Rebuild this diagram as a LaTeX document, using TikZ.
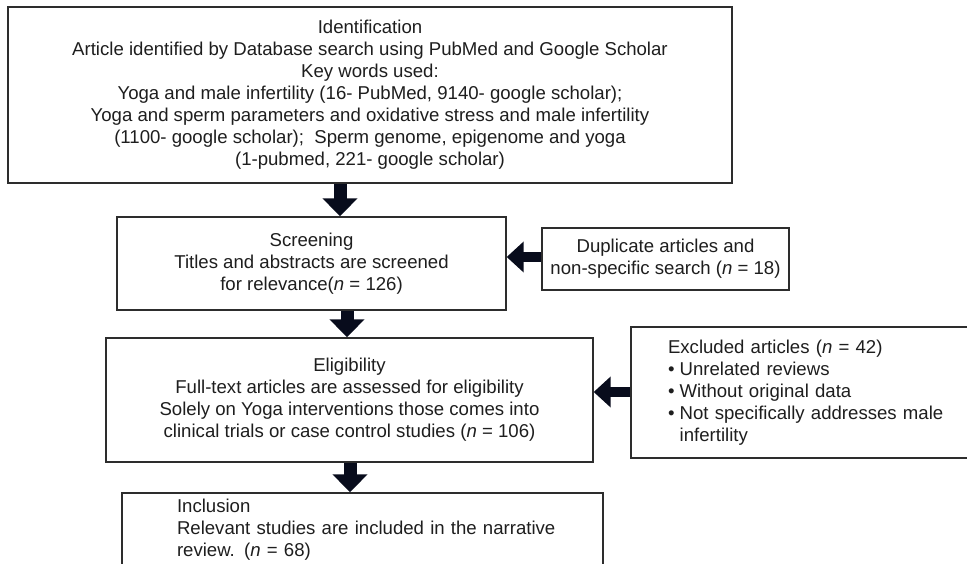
\documentclass[tikz,border=0pt]{standalone}
\usepackage{fontspec}
\setmainfont{Liberation Sans}
\usetikzlibrary{arrows.meta}
\definecolor{boxline}{RGB}{45,45,45}
\definecolor{txt}{RGB}{30,30,30}
\definecolor{arrowc}{RGB}{8,12,28}
\begin{document}
\begin{tikzpicture}[x=1pt,y=-1pt,
  box/.style={draw=boxline, line width=1.4pt, inner sep=0pt, text=txt,
    font=\fontsize{18.6}{22}\selectfont},
  vbar/.style={draw=arrowc, line width=13pt, -{Triangle[width=34pt,length=18pt]}},
  hbar/.style={draw=arrowc, line width=10pt, -{Triangle[width=30pt,length=17pt]}}]
\clip (0,0) rectangle (967,564);
\fill[white] (0,0) rectangle (967,564);

\node[box, minimum width=724pt, minimum height=176pt, align=center] (top) at (370,95)
 {Identification\\
  Article identified by Database search using PubMed and Google Scholar\\
  Key words used:\\
  Yoga and male infertility (16- PubMed, 9140- google scholar);\\
  Yoga and sperm parameters and oxidative stress and male infertility\\
  (1100- google scholar);~ Sperm genome, epigenome and yoga\\
  (1-pubmed, 221- google scholar)};

\node[box, minimum width=389pt, minimum height=93pt, align=center] (screen) at (311.5,263.5)
 {Screening\\
  Titles and abstracts are screened\\
  for relevance(\textit{n} = 126)};

\node[box, minimum width=247pt, minimum height=62pt, align=center] (dup) at (665.5,259)
 {Duplicate articles and\\
  non-specific search (\textit{n} = 18)};

\node[box, minimum width=487pt, minimum height=124pt, align=center] (elig) at (349.5,400)
 {Eligibility\\
  Full-text articles are assessed for eligibility\\
  Solely on Yoga interventions those comes into\\
  clinical trials or case control studies (\textit{n} = 106)};

\node[box, inner xsep=37pt, text width=285pt, minimum height=131pt, align=left] (excl) at (810.5,392.5)
 {\mbox{Excluded articles (\textit{n} = 42)}\\
  \mbox{\makebox[11.7pt][l]{\textbullet}Unrelated reviews}\\
  \mbox{\makebox[11.7pt][l]{\textbullet}Without original data}\\
  \mbox{\makebox[11.7pt][l]{\textbullet}Not specifically addresses male}\\
  \mbox{\hspace*{11.7pt}infertility}};

\node[box, inner xsep=55pt, text width=371pt, minimum height=73pt, align=left] (incl) at (362.5,529.5)
 {\mbox{Inclusion}\\
  \mbox{Relevant studies are included in the narrative}\\
  \mbox{review. (\textit{n} = 68)}};

\draw[vbar] (340,0 |- top.south) -- (340,0 |- screen.north);
\draw[hbar] (dup.west |- 0,257) -- (screen.east |- 0,257);
\draw[vbar] (347,0 |- screen.south) -- (347,0 |- elig.north);
\draw[hbar] (excl.west |- 0,392) -- (elig.east |- 0,392);
\draw[vbar] (350,0 |- elig.south) -- (350,0 |- incl.north);
\end{tikzpicture}
\end{document}
